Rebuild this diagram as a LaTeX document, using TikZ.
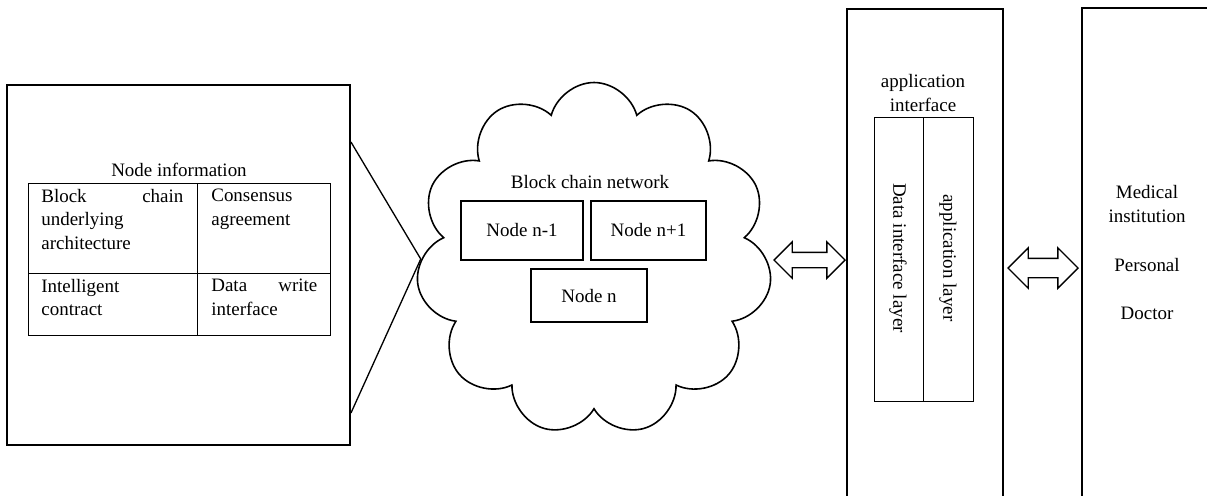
\documentclass[tikz,border=0pt]{standalone}
\usepackage{fontspec}
\setmainfont{Liberation Serif}
\usetikzlibrary{calc,shapes.symbols,shapes.arrows}
\definecolor{ink}{HTML}{000000}
\def\px{0.02cm}
\tikzset{
  frame/.style={draw=ink, line width=1.1pt},
  grid/.style={draw=ink, line width=0.55pt},
  peer/.style={draw=ink, line width=0.8pt, inner sep=0pt},
  link/.style={draw=ink, line width=0.75pt},
  dbl/.style={double arrow, draw=ink, line width=0.8pt, inner xsep=0pt,
    double arrow tip angle=90, double arrow head extend=10.5*\px},
  lab/.style={text=ink, font=\fontsize{10.8}{13.3}\selectfont, inner sep=0pt},
  cell/.style={lab, anchor=north west, align=justify},
}

\begin{document}
\begin{tikzpicture}[x=0.02cm, y=-0.02cm]
  \useasboundingbox (0,0) rectangle (1207,495);

  % node information box
  \node[frame, minimum width=343*\px, minimum height=360*\px] (info) at (178.5,265) {};
  \node[lab] (infot) at (179,170) {Node information};
  \draw[grid] (28,183) rectangle (330,335);
  \draw[grid] (197,183) -- (197,335) (28,273) -- (330,273);
  \node[cell, text width=142*\px] (c11) at (41,189) {Block\hfill chain\\underlying\\architecture};
  \node[cell, text width=106*\px] (c12) at (211,189) {Consensus\\agreement};
  \node[cell, text width=142*\px] (c21) at (41,279) {Intelligent\\contract};
  \node[cell, text width=106*\px] (c22) at (211,279) {Data\hfill write\\interface};

  % block chain network
  \node[cloud, draw=ink, line width=0.9pt, cloud puffs=11, aspect=1,
        minimum width=356*\px, minimum height=353*\px] (net) at (594,259) {};
  \node[lab] (nett) at (590,182) {Block chain network};
  \node[peer, minimum width=122*\px, minimum height=59*\px] (pa) at (522,230.5) {};
  \node[lab] at (pa) {Node n-1};
  \node[peer, minimum width=115*\px, minimum height=59*\px] (pb) at (648.5,230.5) {};
  \node[lab] at (pb) {Node n+1};
  \node[peer, minimum width=116*\px, minimum height=53*\px] (pc) at (589,295.5) {};
  \node[lab] at (pc) {Node n};

  \draw[link] ($(info.north east)+(0,58)$) -- (net.west) -- ($(info.south east)+(0,-33)$);

  % application interface
  \node[frame, minimum width=156*\px, minimum height=496*\px] (api) at (925,257) {};
  \node[lab, align=center] (apit) at (923,93) {application\\interface};
  \draw[grid] (874,117) rectangle (973,401);
  \draw[grid] (923,117) -- (923,401);
  \node[lab, rotate=-90] (dil) at (898,258) {Data interface layer};
  \node[lab, rotate=-90] (apl) at (948,258) {application layer};

  % users
  \node[frame, line width=1.3pt, minimum width=133*\px, minimum height=497*\px] (user) at (1148.5,256.5) {};
  \node[lab] (u1) at (1147,192) {Medical};
  \node[lab] (u2) at (1147,216) {institution};
  \node[lab] (u3) at (1147,265) {Personal};
  \node[lab] (u4) at (1147,313) {Doctor};

  \node[dbl, minimum height=71*\px, inner ysep=7*\px] (a1) at (809.5,260) {};
  \node[dbl, minimum height=70*\px, inner ysep=9*\px] (a2) at (1043,268) {};
\end{tikzpicture}
\end{document}
